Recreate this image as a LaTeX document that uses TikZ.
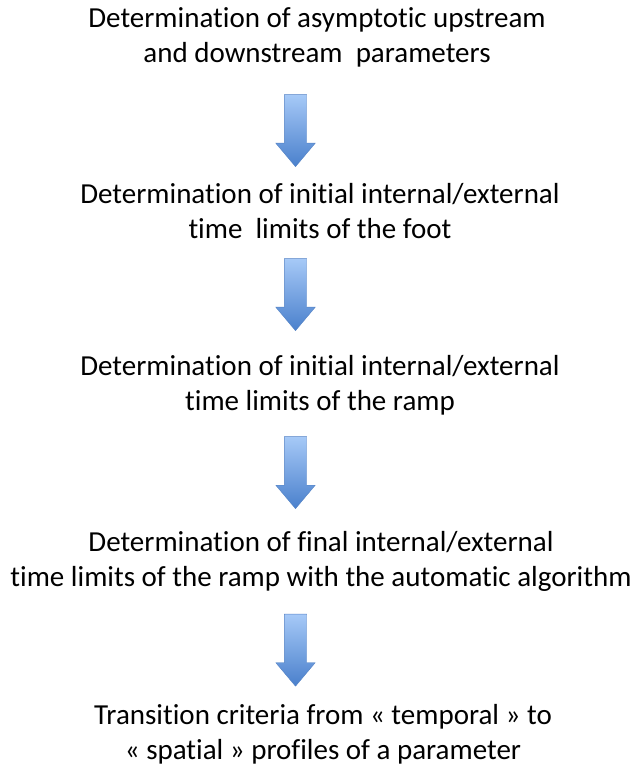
\documentclass[tikz,border=0pt]{standalone}
\usepackage{fontspec}
\setmainfont{Carlito}[Ligatures=NoCommon]
\usepackage{tikz}
\usetikzlibrary{shapes.arrows}

\definecolor{arrowtop}{RGB}{166,201,247}
\definecolor{arrowbot}{RGB}{74,128,204}
\definecolor{arrowline}{RGB}{84,130,196}

\begin{document}
\begin{tikzpicture}[x=1pt,y=-1pt]
\tikzstyle{step text}=[align=center,inner sep=0pt,font=\fontsize{29}{35}\selectfont,text=black];
\tikzstyle{down arrow}=[single arrow,shape border rotate=270,draw=arrowline,thin,
  top color=arrowtop,bottom color=arrowbot,inner sep=11pt,minimum height=72pt,
  single arrow head extend=8.5pt,single arrow tip angle=80];
\useasboundingbox (0,0) rectangle (634,765);
\node[step text] (asym) at (317,37.5) {Determination of asymptotic upstream\\ and downstream~~parameters};
\node[step text] (foot) at (320,211) {Determination of initial internal/external\\ time~~limits of the foot};
\node[step text] (ramp) at (320,385.5) {Determination of initial internal/external\\ time limits of the ramp};
\node[step text] (final) at (321,561) {Determination of final internal/external\\ time limits of the ramp with the automatic algorithm};
\node[step text] (crit) at (323,734) {Transition criteria from « temporal » to\\ « spatial » profiles of a parameter};
\node[down arrow] (a1) at (295.5,124) {};
\node[down arrow] (a2) at (295.5,288) {};
\node[down arrow] (a3) at (295.5,466) {};
\node[down arrow] (a4) at (295.5,643.5) {};
\end{tikzpicture}
\end{document}
